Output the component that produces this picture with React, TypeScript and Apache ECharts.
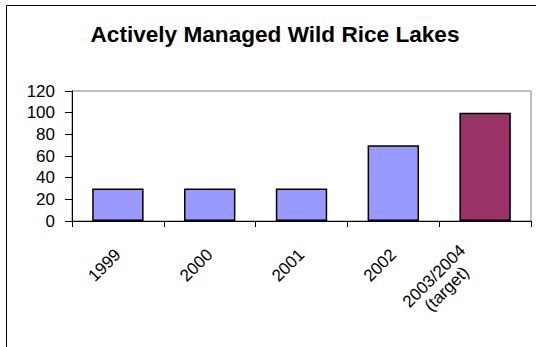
import React, { useEffect, useRef } from "react";
import * as echarts from "echarts";

const categories = ["1999", "2000", "2001", "2002", "2003/2004\n(target)"];
const values = [30, 30, 30, 70, 100];
const barColors = ["#9999FF", "#9999FF", "#9999FF", "#9999FF", "#993366"];
const yTicks = { min: 0, max: 120, interval: 20 };
const titleText = "Actively Managed Wild Rice Lakes";

export default function App() {
  const ref = useRef<HTMLDivElement>(null);
  useEffect(() => {
    if (!ref.current) return;
    const chart = echarts.init(ref.current, null, { renderer: "svg" });
    const font = "'Liberation Sans', Arial, sans-serif";
    chart.setOption({
      animation: false,
      backgroundColor: "#ffffff",
      grid: {
        left: 72,
        top: 91,
        right: 5,
        bottom: 126,
        show: true,
        borderColor: "#808080",
        borderWidth: 1,
        backgroundColor: "transparent",
      },
      graphic: [
        {
          type: "rect",
          shape: { x: 6.5, y: 5.5, width: 600, height: 400 },
          style: { fill: "none", stroke: "#000000", lineWidth: 1 },
          silent: true,
        },
        {
          type: "text",
          x: 275,
          y: 34,
          style: {
            text: titleText,
            font: "bold 22.6px 'Liberation Sans', Arial, sans-serif",
            fill: "#000000",
            textAlign: "center",
            textVerticalAlign: "middle",
          },
        },
      ],
      xAxis: {
        type: "category",
        data: categories.map((c) =>
          c.includes("\n") ? { value: c, textStyle: { padding: [0, 13, 20, 0] } } : c
        ),
        axisLine: { show: true, lineStyle: { color: "#000000", width: 1 } },
        axisTick: { show: true, alignWithLabel: false, length: 6, lineStyle: { color: "#000000" } },
        axisLabel: {
          rotate: 45,
          margin: 31,
          color: "#000000",
          fontFamily: font,
          fontSize: 17,
          lineHeight: 18,
          interval: 0,
          formatter: (v: string) =>
            v
              .split("\n")
              .map((s) => `{c|${s}}`)
              .join("\n"),
          rich: {
            c: {
              align: "center",
              fontFamily: font,
              fontSize: 17,
              lineHeight: 18,
              color: "#000000",
            },
          },
        },
        splitLine: { show: false },
      },
      yAxis: {
        type: "value",
        min: yTicks.min,
        max: yTicks.max,
        interval: yTicks.interval,
        axisLine: { show: true, lineStyle: { color: "#000000", width: 1 } },
        axisTick: { show: true, length: 7, lineStyle: { color: "#000000" } },
        axisLabel: {
          color: "#000000",
          fontFamily: font,
          fontSize: 17,
          margin: 17,
        },
        splitLine: { show: false },
      },
      series: [
        {
          type: "bar",
          barWidth: "56%",
          data: values.map((v, i) => ({
            value: v,
            itemStyle: { color: barColors[i], borderColor: "#000000", borderWidth: 1.5 },
          })),
        },
      ],
    });
    return () => chart.dispose();
  }, []);
  return (
    <div
      ref={ref}
      style={{ position: "fixed", left: 0, top: 0, width: 536, height: 347 }}
    />
  );
}
